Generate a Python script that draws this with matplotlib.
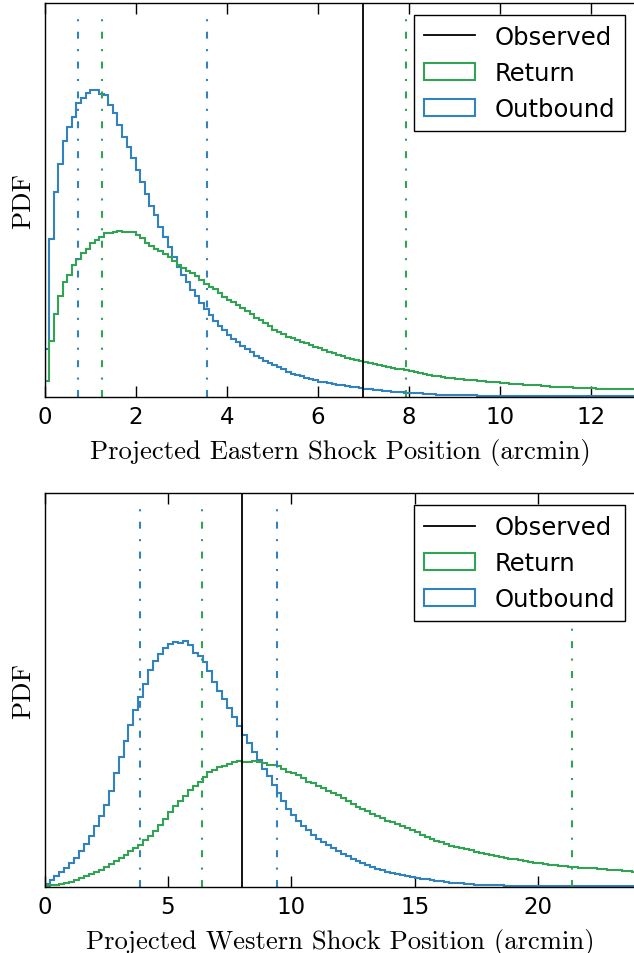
import numpy as np
import matplotlib
matplotlib.use('Agg')
import matplotlib.pyplot as plt

# ---------------- data ----------------
# Eastern shock: histogram bin heights (relative PDF), bins of 0.1 arcmin from 0 to 13
east_bin_width = 0.1
east_outbound = [
    0.12, 0.40, 0.52, 0.59, 0.65, 0.685, 0.71, 0.745, 0.758, 0.772,
    0.778, 0.779, 0.768, 0.765, 0.742, 0.72, 0.69, 0.66, 0.635, 0.605,
    0.575, 0.545, 0.515, 0.485, 0.46, 0.43, 0.405, 0.38, 0.355, 0.33,
    0.31, 0.29, 0.27, 0.255, 0.237, 0.222, 0.207, 0.193, 0.18, 0.168,
    0.157, 0.147, 0.138, 0.129, 0.12, 0.112, 0.104, 0.097, 0.091, 0.085,
    0.079, 0.074, 0.069, 0.062, 0.058, 0.054, 0.051, 0.047, 0.044, 0.041,
    0.038, 0.036, 0.034, 0.032, 0.030, 0.028, 0.026, 0.024, 0.023, 0.021,
    0.020, 0.018, 0.017, 0.016, 0.015, 0.013, 0.012, 0.011, 0.011, 0.010,
    0.009, 0.008, 0.008, 0.007, 0.006, 0.006, 0.005, 0.005, 0.004, 0.004,
    0.004, 0.003, 0.003, 0.003, 0.003, 0.002, 0.002, 0.002, 0.002, 0.002,
    0.002, 0.002, 0.002, 0.001, 0.001, 0.001, 0.001, 0.001, 0.001, 0.001,
    0.001, 0.001, 0.001, 0.001, 0.001, 0.001, 0.001, 0.001, 0.001, 0.001,
    0.001, 0.001, 0.001, 0.001, 0.001, 0.001, 0.001, 0.001, 0.001, 0.001,
]
east_return = [
    0.04, 0.14, 0.21, 0.255, 0.29, 0.31, 0.333, 0.35, 0.365, 0.375,
    0.39, 0.397, 0.405, 0.415, 0.416, 0.418, 0.42, 0.417, 0.419, 0.417,
    0.41, 0.402, 0.39, 0.382, 0.376, 0.37, 0.363, 0.355, 0.345, 0.335,
    0.326, 0.32, 0.315, 0.305, 0.295, 0.286, 0.279, 0.272, 0.264, 0.254,
    0.246, 0.24, 0.232, 0.226, 0.218, 0.21, 0.20, 0.194, 0.186, 0.178,
    0.17, 0.164, 0.158, 0.152, 0.148, 0.144, 0.139, 0.135, 0.13, 0.126,
    0.122, 0.118, 0.114, 0.11, 0.106, 0.102, 0.099, 0.096, 0.093, 0.09,
    0.087, 0.085, 0.082, 0.079, 0.077, 0.075, 0.073, 0.071, 0.069, 0.067,
    0.064, 0.061, 0.059, 0.057, 0.055, 0.053, 0.051, 0.049, 0.047, 0.046,
    0.045, 0.044, 0.043, 0.042, 0.041, 0.040, 0.039, 0.038, 0.037, 0.036,
    0.035, 0.034, 0.033, 0.032, 0.031, 0.030, 0.029, 0.028, 0.028, 0.027,
    0.026, 0.025, 0.025, 0.024, 0.023, 0.023, 0.022, 0.022, 0.021, 0.021,
    0.021, 0.020, 0.020, 0.020, 0.019, 0.019, 0.019, 0.019, 0.019, 0.019,
]
east_outbound_lines = [0.74, 3.56]
east_return_lines = [1.26, 7.94]
east_observed = 7.0

# Western shock: bins of 0.2 arcmin from 0 to 24
west_bin_width = 0.2
west_outbound = [
    0.006, 0.017, 0.027, 0.036, 0.047, 0.06, 0.072, 0.09, 0.109, 0.128,
    0.154, 0.179, 0.207, 0.244, 0.288, 0.33, 0.371, 0.41, 0.45, 0.482,
    0.515, 0.55, 0.573, 0.592, 0.607, 0.618, 0.621, 0.62, 0.625, 0.615,
    0.595, 0.585, 0.57, 0.547, 0.52, 0.497, 0.478, 0.455, 0.43, 0.407,
    0.385, 0.365, 0.343, 0.322, 0.30, 0.28, 0.259, 0.238, 0.217, 0.197,
    0.182, 0.167, 0.154, 0.143, 0.131, 0.122, 0.114, 0.106, 0.098, 0.09,
    0.083, 0.077, 0.07, 0.064, 0.059, 0.054, 0.049, 0.045, 0.041, 0.037,
    0.034, 0.031, 0.029, 0.026, 0.024, 0.022, 0.02, 0.018, 0.017, 0.015,
    0.013, 0.011, 0.010, 0.009, 0.008, 0.007, 0.006, 0.005, 0.005, 0.004,
    0.004, 0.003, 0.003, 0.002, 0.002, 0.002, 0.001, 0.001, 0.001, 0.001,
    0.0005, 0.0005, 0.0005, 0.0005, 0.0005, 0.0003, 0.0003, 0.0003, 0.0003, 0.0003,
    0.0002, 0.0002, 0.0002, 0.0002, 0.0002, 0.0001, 0.0001, 0.0001, 0.0001, 0.0001,
]
west_return = [
    0.001, 0.003, 0.005, 0.007, 0.010, 0.012, 0.016, 0.021, 0.026, 0.031,
    0.037, 0.043, 0.050, 0.058, 0.065, 0.073, 0.081, 0.090, 0.098, 0.106,
    0.117, 0.129, 0.141, 0.157, 0.172, 0.190, 0.205, 0.218, 0.230, 0.245,
    0.255, 0.265, 0.278, 0.290, 0.297, 0.303, 0.307, 0.312, 0.316, 0.318,
    0.317, 0.316, 0.318, 0.316, 0.313, 0.310, 0.309, 0.306, 0.300, 0.292,
    0.288, 0.283, 0.275, 0.267, 0.262, 0.256, 0.250, 0.244, 0.239, 0.233,
    0.225, 0.217, 0.210, 0.203, 0.197, 0.191, 0.185, 0.179, 0.173, 0.167,
    0.163, 0.159, 0.153, 0.148, 0.143, 0.138, 0.132, 0.126, 0.121, 0.116,
    0.112, 0.108, 0.104, 0.101, 0.098, 0.095, 0.092, 0.089, 0.086, 0.083,
    0.080, 0.078, 0.076, 0.073, 0.071, 0.069, 0.067, 0.065, 0.063, 0.061,
    0.059, 0.057, 0.055, 0.054, 0.053, 0.051, 0.050, 0.049, 0.048, 0.047,
    0.047, 0.046, 0.045, 0.044, 0.043, 0.042, 0.041, 0.040, 0.039, 0.038,
]
west_outbound_lines = [3.87, 9.41]
west_return_lines = [6.37, 21.39]
west_observed = 7.99

xlabels = ['Projected Eastern Shock Position (arcmin)',
           'Projected Western Shock Position (arcmin)']
xlims = [13, 24]

# ---------------- style ----------------
BLUE = '#3182bd'
GREEN = '#31a354'
plt.rcParams['font.family'] = ['DejaVu Sans']
plt.rcParams['axes.unicode_minus'] = False
plt.rcParams['lines.scale_dashes'] = False

W, H = 634, 954
fig = plt.figure(figsize=(W / 100, H / 100), dpi=100)

def fx(px):
    return px / W

def fy(py):
    return 1 - py / H

ax_left = 44.6
ax_right = 636.8
boxes = [(4.0, 397.5), (494.3, 887.5)]

dashdot = (0, (5, 7.5, 1.5, 7.5))

panels = [
    (east_bin_width, east_outbound, east_return, east_outbound_lines, east_return_lines, east_observed),
    (west_bin_width, west_outbound, west_return, west_outbound_lines, west_return_lines, west_observed),
]

for i, (bw, outb, ret, olines, rlines, obs) in enumerate(panels):
    top, bot = boxes[i]
    ax = fig.add_axes([fx(ax_left), fy(bot), fx(ax_right - ax_left), (bot - top) / H])
    n = len(outb)
    edges = np.arange(n + 1) * bw
    h_out = ax.hist(edges[:-1] + bw / 2, bins=edges, weights=outb, histtype='step',
                    color=BLUE, lw=1.5, label='Outbound')[2][0]
    h_ret = ax.hist(edges[:-1] + bw / 2, bins=edges, weights=ret, histtype='step',
                    color=GREEN, lw=1.5, label='Return')[2][0]
    for v in olines:
        ax.axvline(v, ymax=0.98, color=BLUE, lw=1.5, linestyle=dashdot)
    for v in rlines:
        ax.axvline(v, ymax=0.98, color=GREEN, lw=1.5, linestyle=dashdot)
    h_obs = ax.axvline(obs, color='black', lw=1.3, label='Observed')

    ax.set_xlim(0, xlims[i])
    ax.set_ylim(0, 1.0)
    ax.set_yticks([])
    ax.tick_params(axis='x', direction='in', top=True, length=8, width=1,
                   labelsize=16.5, pad=6)
    for s in ax.spines.values():
        s.set_linewidth(1.0)
    ax.set_xlabel(xlabels[i], family='cmr10', fontsize=19.2, labelpad=7)
    ax.set_ylabel('PDF', family='cmr10', fontsize=19.2, labelpad=7)
    leg = ax.legend([h_obs, h_ret, h_out], ['Observed', 'Return', 'Outbound'],
                    loc='upper right', fontsize=17.5, fancybox=False,
                    edgecolor='black', framealpha=1, borderaxespad=0.5,
                    handlelength=2.1, handleheight=0.7)
    leg.get_frame().set_linewidth(1.0)

fig.savefig('out.png', dpi=100)
